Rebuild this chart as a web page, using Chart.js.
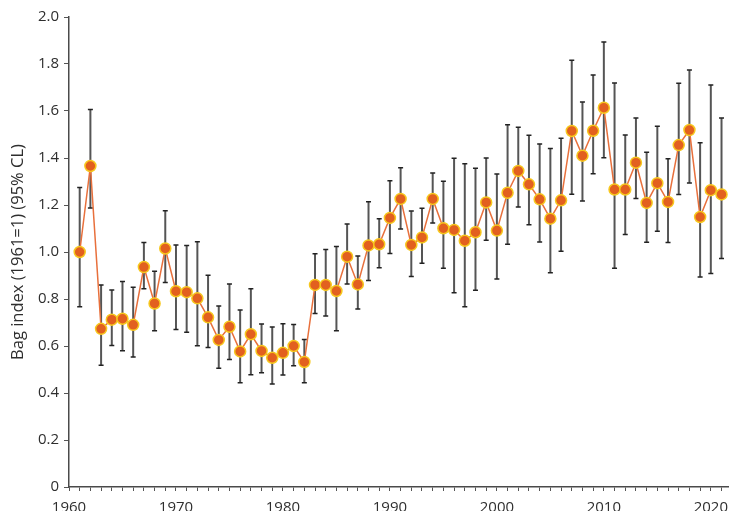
<!DOCTYPE html>
<html>
<head>
<meta charset="utf-8">
<script src="https://cdn.jsdelivr.net/npm/chart.js@4/dist/chart.umd.min.js"></script>
<style>
  html, body { margin: 0; padding: 0; background: #fff; overflow: hidden; }
  canvas { display: block; }
</style>
</head>
<body>
<canvas id="chart" width="729" height="511"></canvas>
<script>
const years = [1961,1962,1963,1964,1965,1966,1967,1968,1969,1970,
  1971,1972,1973,1974,1975,1976,1977,1978,1979,1980,
  1981,1982,1983,1984,1985,1986,1987,1988,1989,1990,
  1991,1992,1993,1994,1995,1996,1997,1998,1999,2000,
  2001,2002,2003,2004,2005,2006,2007,2008,2009,2010,
  2011,2012,2013,2014,2015,2016,2017,2018,2019,2020,2021];

// bag index, 1961 = 1
const bagIndex = [1.00,1.366,0.673,0.712,0.716,0.690,0.936,0.781,1.015,0.833,
  0.829,0.803,0.722,0.626,0.682,0.577,0.650,0.579,0.550,0.571,
  0.600,0.532,0.860,0.860,0.834,0.980,0.862,1.028,1.033,1.145,
  1.226,1.030,1.062,1.226,1.101,1.094,1.048,1.084,1.211,1.091,
  1.252,1.345,1.288,1.224,1.142,1.220,1.515,1.410,1.516,1.614,
  1.266,1.266,1.380,1.209,1.293,1.213,1.455,1.519,1.149,1.263,1.245];

// 95% confidence limits
const lowerCL = [0.767,1.187,0.518,0.602,0.580,0.553,0.844,0.665,0.870,0.670,
  0.658,0.601,0.594,0.505,0.543,0.444,0.478,0.486,0.438,0.477,
  0.516,0.444,0.738,0.728,0.665,0.864,0.757,0.879,0.933,0.994,
  1.098,0.896,0.952,1.123,0.931,0.827,0.767,0.837,1.050,0.885,
  1.033,1.191,1.116,1.043,0.912,1.003,1.246,1.217,1.333,1.401,
  0.931,1.074,1.228,1.041,1.088,1.040,1.245,1.294,0.894,0.909,0.972];

const upperCL = [1.275,1.606,0.860,0.838,0.874,0.850,1.040,0.918,1.176,1.030,
  1.028,1.044,0.901,0.770,0.864,0.753,0.844,0.694,0.681,0.695,
  0.692,0.628,0.993,1.011,1.023,1.119,0.983,1.214,1.142,1.303,
  1.359,1.174,1.186,1.336,1.301,1.399,1.376,1.356,1.400,1.332,
  1.542,1.531,1.497,1.460,1.440,1.484,1.816,1.638,1.753,1.894,
  1.719,1.498,1.570,1.424,1.535,1.397,1.718,1.774,1.465,1.711,1.570];

const yTicks = [0, 0.2, 0.4, 0.6, 0.8, 1.0, 1.2, 1.4, 1.6, 1.8, 2.0];

// vertical CI bars with small caps, drawn under the line
const errorBars = {
  id: 'errorBars',
  beforeDatasetsDraw(chart) {
    const { ctx, scales: { x, y } } = chart;
    ctx.save();
    years.forEach((yr, i) => {
      const px = x.getPixelForValue(yr);
      const top = y.getPixelForValue(upperCL[i]);
      const bot = y.getPixelForValue(lowerCL[i]);
      ctx.strokeStyle = '#555';
      ctx.lineWidth = 2;
      ctx.beginPath();
      ctx.moveTo(px, top);
      ctx.lineTo(px, bot);
      ctx.stroke();
      ctx.strokeStyle = '#222';
      ctx.lineWidth = 1.5;
      ctx.beginPath();
      ctx.moveTo(px - 2.5, top);
      ctx.lineTo(px + 2.5, top);
      ctx.moveTo(px - 2.5, bot);
      ctx.lineTo(px + 2.5, bot);
      ctx.stroke();
    });
    ctx.restore();
  }
};

const tickFont = { family: '"Open Sans", sans-serif', size: 15 };

new Chart(document.getElementById('chart'), {
  type: 'line',
  data: {
    datasets: [{
      data: years.map((yr, i) => ({ x: yr, y: bagIndex[i] })),
      borderColor: '#e8703c',
      borderWidth: 1.5,
      pointBackgroundColor: '#e2601f',
      pointBorderColor: '#f7c81e',
      pointBorderWidth: 1.5,
      pointRadius: 5.5,
      tension: 0,
      clip: false
    }]
  },
  options: {
    responsive: false,
    animation: false,
    devicePixelRatio: 1,
    layout: { autoPadding: false, padding: { top: 17, right: 0, left: 0, bottom: 0 } },
    plugins: { legend: { display: false }, tooltip: { enabled: false } },
    scales: {
      x: {
        type: 'linear',
        min: 1960,
        max: 2021.7,
        afterFit: s => { s.height = 24; s.paddingRight = 0; s.paddingLeft = 0; },
        grid: { drawOnChartArea: false, drawTicks: true, tickLength: 4, color: '#555' },
        border: { color: '#4a4a4a', width: 1.5 },
        ticks: {
          stepSize: 1,
          includeBounds: false,
          autoSkip: false,
          maxRotation: 0,
          padding: 8,
          color: '#2e2e2e',
          font: tickFont,
          callback: v => (v % 10 === 0 ? String(v) : '')
        }
      },
      y: {
        min: 0,
        max: 2.0,
        afterFit: s => { s.width = 69; },
        afterBuildTicks: s => { s.ticks = yTicks.map(v => ({ value: v })); },
        grid: { drawOnChartArea: false, drawTicks: true, tickLength: 5, color: '#555' },
        border: { color: '#4a4a4a', width: 1.5 },
        ticks: {
          padding: 5,
          color: '#2e2e2e',
          font: tickFont,
          callback: v => (v === 0 ? '0' : v.toFixed(1))
        },
        title: {
          display: true,
          text: 'Bag index (1961=1) (95% CL)',
          color: '#2e2e2e',
          font: { family: '"Open Sans", sans-serif', size: 16.5 },
          padding: { top: 8, bottom: 4 }
        }
      }
    }
  },
  plugins: [errorBars]
});
</script>
</body>
</html>
